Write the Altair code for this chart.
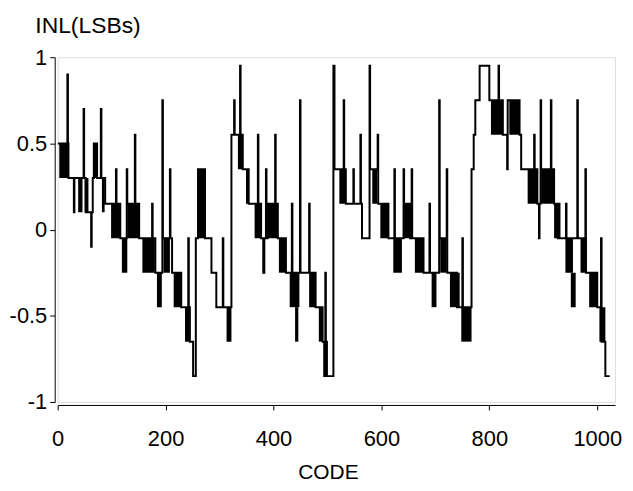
import altair as alt
import pandas as pd

# Step line: (code, INL value) breakpoints, drawn step-after
codes = [0, 18, 19, 20, 30, 31, 48, 49, 52, 62, 63, 65, 67, 73, 80, 81, 88,
         108, 109, 116, 128, 129, 143, 144, 151, 175, 176, 181, 194, 195, 208, 209,
         212, 229, 242, 243, 245, 251, 256, 260, 273, 285, 294, 306, 307, 322,
         327, 328, 338, 339, 343, 354, 371, 372, 377, 381, 383, 386, 387, 389,
         403, 404, 408, 423, 434, 435, 449, 450, 466, 467, 478, 491, 494, 496,
         497, 499, 511, 513, 530, 531, 534, 548, 549, 561, 562, 564, 578, 579,
         593, 594, 613, 624, 625, 641, 642, 653, 656, 657, 678, 689, 690, 702,
         707, 708, 721, 722, 740, 750, 751, 767, 771, 774, 782, 800, 817, 818,
         825, 833, 834, 856, 859, 883, 884, 889, 892, 893, 895, 896, 914, 915,
         920, 927, 929, 930, 942, 943, 963, 964, 978, 979, 1000, 1007, 1008,
         1015, 1023]
inl = [0.5, 0.9, 0.5, 0.3, 0.1, 0.3, 0.7, 0.3, 0.1, -0.1, 0.1, 0.3, 0.5, 0.3, 0.7, 0.3, 0.15,
       0.35, 0.15, -0.05, 0.35, 0.15, 0.55, 0.15, -0.05, 0.15, -0.05, -0.25, 0.75, -0.05, 0.35, -0.05,
       -0.25, -0.45, -0.05, -0.45, -0.65, -0.85, -0.05, 0.35, -0.05, -0.25, -0.45, -0.05, -0.45, 0.55,
       0.75, 0.55, 0.95, 0.55, 0.35, 0.15, 0.55, 0.15, -0.05, -0.25, -0.05, 0.35, -0.05, 0.15,
       0.55, 0.15, -0.05, -0.25, 0.15, -0.25, 0.75, -0.25, 0.15, -0.25, -0.45, -0.65, -0.85, -0.25,
       -0.65, -0.85, 0.95, 0.35, 0.75, 0.35, 0.15, 0.35, 0.15, 0.55, 0.15, -0.05, 0.95, 0.35,
       0.55, 0.15, -0.05, 0.35, -0.05, 0.35, 0.15, -0.05, 0.35, -0.05, -0.25, 0.15, -0.25, -0.25,
       0.75, -0.05, 0.35, -0.25, -0.45, -0.05, -0.45, 0.35, 0.55, 0.75, 0.95, 0.75, 0.95, 0.75,
       0.55, 0.35, 0.75, 0.55, 0.35, 0.55, 0.35, 0.15, -0.05, 0.15, 0.75, 0.35, 0.75, 0.35,
       0.15, -0.05, 0.15, -0.05, 0.15, -0.05, 0.75, -0.05, 0.35, -0.25, -0.45, -0.05, -0.65,
       -0.85, -0.85]

# Densely toggling stretches (codes where the trace flips between two levels)
blk_start = [3, 38, 50, 67, 82, 99, 119, 129, 157, 184, 196, 215, 236, 260, 313, 334, 349,
             365, 389, 410, 430, 440, 466, 484, 494, 522, 583, 598, 622, 641, 662, 693, 709,
             727, 748, 803, 837, 871, 896, 920, 941, 951, 969, 985, 1004]
blk_end = [20, 46, 57, 73, 87, 116, 129, 151, 180, 193, 208, 229, 245, 273, 322, 343, 354,
           377, 408, 423, 448, 446, 478, 491, 497, 534, 592, 613, 638, 653, 678, 702, 721,
           745, 767, 825, 856, 889, 920, 927, 955, 960, 981, 1000, 1015]
blk_lo = [0.3, 0.1, 0.1, 0.3, 0.1, -0.05, -0.25, -0.05, -0.25, -0.45, -0.25, -0.45, -0.65,
          -0.05, -0.65, 0.35, 0.15, -0.05, -0.05, -0.25, -0.45, -0.65, -0.45, -0.65, -0.85,
          0.15, 0.15, -0.05, -0.25, -0.05, -0.25, -0.45, -0.25, -0.45, -0.65, 0.55, 0.55,
          0.15, 0.15, -0.05, -0.25, -0.45, -0.25, -0.45, -0.65]
blk_hi = [0.5, 0.3, 0.3, 0.5, 0.3, 0.15, -0.05, 0.15, -0.05, -0.25, -0.05, -0.25, -0.45,
          0.35, -0.45, 0.55, 0.35, 0.15, 0.15, -0.05, -0.25, -0.45, -0.25, -0.45, -0.65,
          0.35, 0.35, 0.15, -0.05, 0.15, -0.05, -0.25, -0.05, -0.25, -0.45, 0.75, 0.75,
          0.35, 0.35, 0.15, -0.05, -0.25, -0.05, -0.25, -0.45]

x_ticks = [0, 200, 400, 600, 800, 1000]
y_ticks = [-1, -0.5, 0, 0.5, 1]

line_df = pd.DataFrame({"code": codes, "inl": inl})
blk_df = pd.DataFrame({"c0": blk_start, "c1": blk_end, "lo": blk_lo, "hi": blk_hi})

FONT = "Liberation Sans"

xscale = alt.Scale(domain=[0, 1033], nice=False, zero=False)
yscale = alt.Scale(domain=[-1, 1], nice=False)

xaxis = alt.Axis(values=x_ticks, title="CODE", grid=False, offset=3, tickSize=5,
                 domainColor="black", tickColor="black", labelColor="black",
                 labelFont=FONT, labelFontSize=22, labelPadding=19,
                 labelExpr="toString(datum.value)",
                 titleFont=FONT, titleFontSize=21, titleFontWeight="normal",
                 titleColor="black", titleBaseline="alphabetic",
                 titleX=272, titleY=74, labelFlush=False)
yaxis = alt.Axis(values=y_ticks, title="INL(LSBs)", grid=False, offset=3, tickSize=5,
                 domainColor="black", tickColor="black", labelColor="black",
                 labelFont=FONT, labelFontSize=22, labelPadding=3,
                 labelExpr="toString(datum.value)",
                 titleFont=FONT, titleFontSize=23, titleFontWeight="normal",
                 titleColor="black", titleAngle=0, titleAlign="left",
                 titleBaseline="alphabetic", titleX=-20, titleY=-25, labelFlush=False)

line = alt.Chart(line_df).mark_line(interpolate="step-after", color="black",
                                    strokeWidth=2, clip=True).encode(
    x=alt.X("code:Q", scale=xscale, axis=xaxis),
    y=alt.Y("inl:Q", scale=yscale, axis=yaxis),
)

blocks = alt.Chart(blk_df).mark_rect(color="black", clip=True).encode(
    x=alt.X("c0:Q", scale=xscale),
    x2="c1:Q",
    y=alt.Y("lo:Q", scale=yscale),
    y2="hi:Q",
)

chart = alt.layer(blocks, line).properties(
    width=561, height=347,
    padding={"left": 50, "top": 48, "right": 10, "bottom": 80},
    autosize=alt.AutoSizeParams(type="none"),
).configure_view(stroke="black", strokeWidth=1.5).configure(background="white")

chart.save("out.html", embed_options={"renderer": "svg", "actions": False})
